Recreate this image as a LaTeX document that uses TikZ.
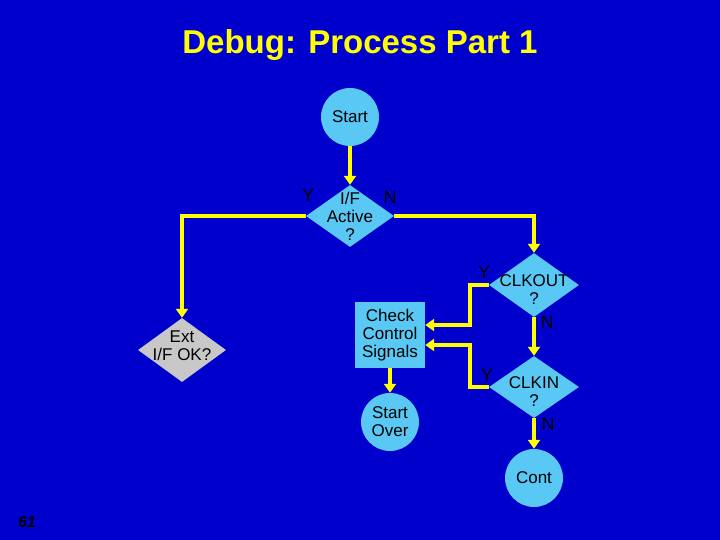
\documentclass[tikz,border=0pt]{standalone}
\usepackage{fontspec}
\setmainfont{Liberation Sans}
\usetikzlibrary{shapes.geometric,arrows.meta}
\definecolor{bg}{RGB}{0,0,204}
\definecolor{nodefill}{RGB}{90,200,245}
\definecolor{ln}{RGB}{255,255,0}
\definecolor{gr}{RGB}{200,200,200}
\begin{document}
\begin{tikzpicture}[x=1pt,y=-1pt,
  txt/.style={font=\fontsize{17}{18}\selectfont, align=center, inner sep=0pt},
  circ/.style={circle, fill=nodefill, minimum size=58pt, txt},
  dia/.style={diamond, fill=nodefill, inner sep=0pt, minimum width=90pt, minimum height=64pt},
  box/.style={rectangle, fill=nodefill, minimum width=70pt, minimum height=66pt, txt},
  lbl/.style={font=\fontsize{18}{18}\selectfont, text=black, inner sep=0pt},
  ar/.style={draw=ln, line width=4pt, -{Triangle[length=9pt,width=12pt]}}]
\fill[bg] (0,0) rectangle (720,540);
\useasboundingbox (0,0) rectangle (720,540);
\node[font=\bfseries\fontsize{33}{34}\selectfont, text=ln] (title) at (360,45) {Debug: Process Part 1};
\node[font=\bfseries\itshape\fontsize{16}{16}\selectfont] (pg) at (27,522) {61};
\node[circ] (start) at (350,117) {Start};
\node[dia, minimum width=88pt, minimum height=62pt] (ifa) at (350,216) {};
\node[txt] (ifat) at (350,216) {I/F\\Active\\?};
\node[dia, fill=gr, minimum width=88pt] (ext) at (182,350) {};
\node[txt] (extt) at (182,346) {Ext\\I/F OK?};
\node[dia] (clkout) at (534,285) {};
\node[txt] (clkoutt) at (534,290) {CLKOUT\\?};
\node[dia, minimum height=62pt] (clkin) at (534,387) {};
\node[txt] (clkint) at (534,392) {CLKIN\\?};
\node[circ] (cont) at (534,478) {Cont};
\node[box] (chk) at (390,335) {Check\\Control\\Signals};
\node[circ] (so) at (390,422) {Start\\Over};
\coordinate (c1) at (182,216);
\coordinate (c2) at (534,216);
\coordinate (c3) at (470,285);
\coordinate (c4) at (470,325);
\coordinate (c5) at (470,387);
\coordinate (c6) at (470,345);
\draw[ar] (start) -- (ifa.north);
\draw[ar] (ifa.west) -- (c1) -- (ext.north);
\draw[ar] (ifa.east) -- (c2) -- (clkout.north);
\draw[ar] (clkout.west) -- (c3) -- (c4) -- (chk.east |- c4);
\draw[ar] (clkin.west) -- (c5) -- (c6) -- (chk.east |- c6);
\draw[ar] (clkout.south) -- (clkin.north);
\draw[ar] (clkin.south) -- (cont.north);
\draw[ar] (chk.south) -- (so.north);
\node[lbl] (y1) at (308,195) {Y};
\node[lbl] (n1) at (390,197) {N};
\node[lbl] (y2) at (484,272) {Y};
\node[lbl] (n2) at (547,322) {N};
\node[lbl] (y3) at (487,375) {Y};
\node[lbl] (n3) at (548,424) {N};
\end{tikzpicture}
\end{document}
